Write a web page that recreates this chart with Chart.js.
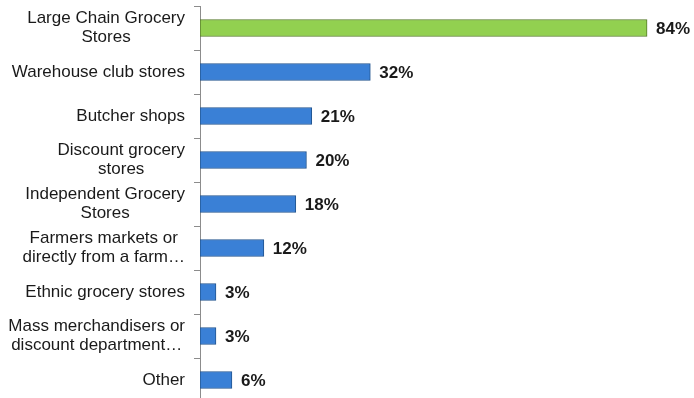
<!DOCTYPE html>
<html>
<head>
<meta charset="utf-8">
<script src="https://cdn.jsdelivr.net/npm/chart.js@4/dist/chart.umd.min.js"></script>
<style>
  html, body { margin: 0; padding: 0; background: #fff; overflow: hidden; }
  #wrap { position: relative; width: 694px; height: 402px; }
</style>
</head>
<body>
<div id="wrap"><canvas id="chart"></canvas></div>
<script>
'use strict';
// store types, each label split into its lines
var storeLabels = [
  ['Large Chain Grocery', 'Stores'],
  ['Warehouse club stores'],
  ['Butcher shops'],
  ['Discount grocery', 'stores'],
  ['Independent Grocery', 'Stores'],
  ['Farmers markets or', 'directly from a farm…'],
  ['Ethnic grocery stores'],
  ['Mass merchandisers or', 'discount department…'],
  ['Other']
];
var sharePct = [84, 32, 21, 20, 18, 12, 3, 3, 6];
var barFill = ['#92d050', '#3a80d6', '#3a80d6', '#3a80d6', '#3a80d6', '#3a80d6', '#3a80d6', '#3a80d6', '#3a80d6'];
var barEdge = ['#55792a', '#22548f', '#22548f', '#22548f', '#22548f', '#22548f', '#22548f', '#22548f', '#22548f'];

// category names on the left, lines centred inside a right-aligned block
var leftLabels = {
  id: 'leftLabels',
  afterDraw: function(chart) {
    var ctx = chart.ctx;
    var yScale = chart.scales.y;
    var right = 185;
    var lineH = 19;
    ctx.save();
    ctx.font = '17px "Liberation Sans", Arial, sans-serif';
    ctx.fillStyle = '#1a1a1a';
    ctx.textAlign = 'center';
    ctx.textBaseline = 'middle';
    for (var i = 0; i < storeLabels.length; i++) {
      var lines = storeLabels[i];
      var w = 0;
      for (var j = 0; j < lines.length; j++) {
        w = Math.max(w, ctx.measureText(lines[j]).width);
      }
      var cx = right - w / 2;
      var cy = yScale.getPixelForValue(i);
      var top = cy - (lines.length - 1) * lineH / 2;
      for (var k = 0; k < lines.length; k++) {
        ctx.fillText(lines[k], cx, top + k * lineH);
      }
    }
    ctx.restore();
  }
};

// percentage at the end of each bar
var valueLabels = {
  id: 'valueLabels',
  afterDatasetsDraw: function(chart) {
    var ctx = chart.ctx;
    var meta = chart.getDatasetMeta(0);
    ctx.save();
    ctx.font = 'bold 17px "Liberation Sans", Arial, sans-serif';
    ctx.fillStyle = '#1a1a1a';
    ctx.textAlign = 'left';
    ctx.textBaseline = 'middle';
    meta.data.forEach(function(bar, i) {
      ctx.fillText(sharePct[i] + '%', bar.x + 9, bar.y + 1);
    });
    ctx.restore();
  }
};

var chart = new Chart(document.getElementById('chart').getContext('2d'), {
  type: 'bar',
  data: {
    labels: storeLabels.map(function(l) { return l.join(' '); }),
    datasets: [{
      data: sharePct,
      backgroundColor: barFill,
      borderColor: barEdge,
      borderWidth: 1,
      borderSkipped: false,
      barThickness: 17
    }]
  },
  options: {
    indexAxis: 'y',
    responsive: true,
    maintainAspectRatio: false,
    animation: false,
    layout: { padding: { left: 194, right: 15, top: 6, bottom: 0 } },
    plugins: {
      legend: { display: false },
      tooltip: { enabled: false }
    },
    scales: {
      x: {
        min: 0,
        max: 90,
        display: false
      },
      y: {
        ticks: { display: false },
        grid: {
          offset: true,
          drawOnChartArea: false,
          drawTicks: true,
          tickLength: 6,
          color: '#8c8c8c'
        },
        border: { color: '#8c8c8c', width: 1 }
      }
    }
  },
  plugins: [leftLabels, valueLabels]
});
</script>
</body>
</html>
